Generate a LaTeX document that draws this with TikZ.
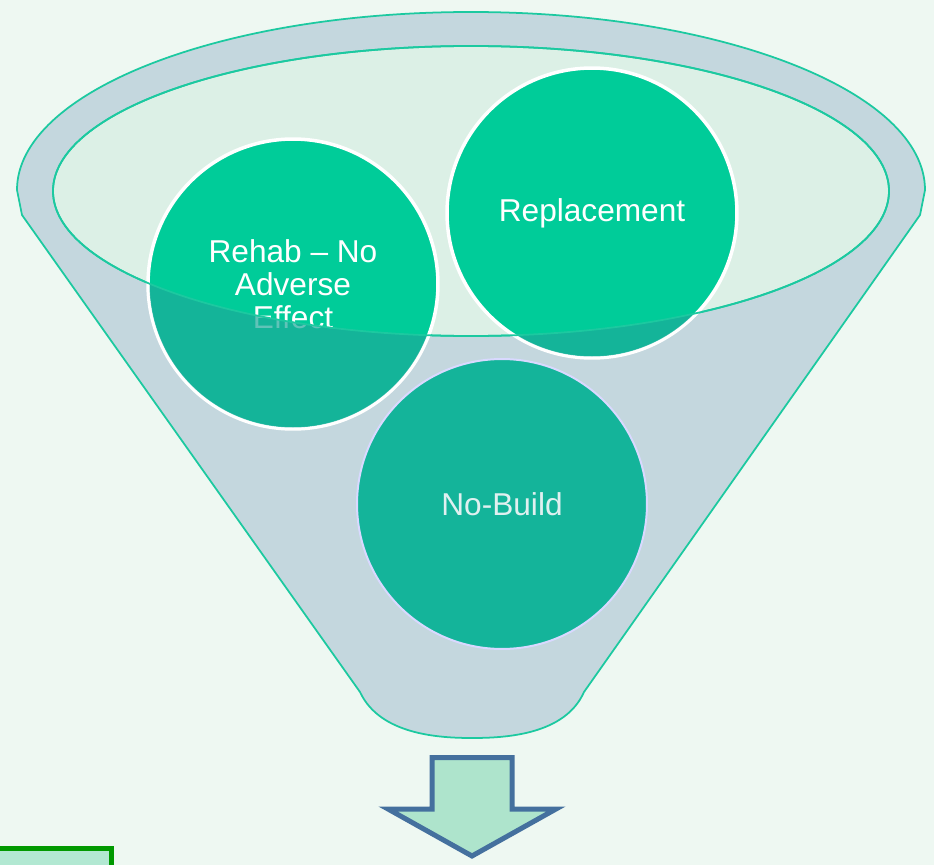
\documentclass[tikz,border=0pt]{standalone}
\usepackage{fontspec}
\setmainfont{Liberation Sans}
\definecolor{bgmint}{HTML}{EEF8F2}
\definecolor{funnelgrey}{HTML}{C4D7DE}
\definecolor{rimline}{HTML}{1CC9A0}
\definecolor{openfill}{HTML}{DCF0E6}
\definecolor{tealbright}{HTML}{00CC99}
\definecolor{tealshade}{HTML}{1DAA9A}
\definecolor{tealdark}{HTML}{14B49A}
\definecolor{arrowfill}{HTML}{AEE4CC}
\definecolor{arrowline}{HTML}{44709E}
\definecolor{boxline}{HTML}{009900}
\definecolor{boxfill}{HTML}{B2E8D2}
\begin{document}
\begin{tikzpicture}[x=0.02cm,y=-0.02cm,
  bubble/.style={circle,minimum size=5.8cm,inner sep=0pt,fill=tealbright,draw=white,
    line width=0.07cm,text=white,align=center,font=\fontsize{18}{18.7}\selectfont},
  rim/.style={draw=rimline,line width=1pt}]
\useasboundingbox (0,0) rectangle (934,865);
\fill[bgmint] (0,0) rectangle (934,865);

% Funnel body
\filldraw[rim,fill=funnelgrey] (925,190) arc[start angle=0,end angle=-180,x radius=454,y radius=178]
  -- (22,215) -- (360,692) .. controls (380,735) and (440,738) .. (472,738)
  .. controls (505,738) and (565,735) .. (584,692) -- (920,215) -- cycle;
% Opening
\filldraw[rim,fill=openfill] (471,191) ellipse[x radius=418,y radius=145];

% Circles
\node[bubble] (rehab) at (293,284) {Rehab – No\\Adverse\\Effect};
\node[bubble] (repl) at (592,213) {\raisebox{-3pt}{Replacement}};
\node[bubble,fill=tealdark,draw=white!85!blue,line width=0.04cm,text=white!88!teal] (nobuild) at (502,504) {No-Build};

% Shade below the opening
\foreach \c in {rehab,repl} {
  \begin{scope}
  \clip (\c.center) circle[radius=143.5];
  \fill[tealshade,opacity=0.7,even odd rule] (0,0) rectangle (934,865) (471,191) ellipse[x radius=418,y radius=145];
  \end{scope}
}
\draw[rim] (471,191) ellipse[x radius=418,y radius=145];

% Arrow
\filldraw[draw=arrowline,fill=arrowfill,line width=0.1cm,miter limit=10]
  (432,757.5) -- (512,757.5) -- (512,809) -- (556,809) -- (472,856) -- (388,809) -- (432,809) -- cycle;

% Box at the bottom left
\filldraw[draw=boxline,fill=boxfill,line width=0.1cm] (-10,848.5) rectangle (111.5,890);
\end{tikzpicture}
\end{document}
